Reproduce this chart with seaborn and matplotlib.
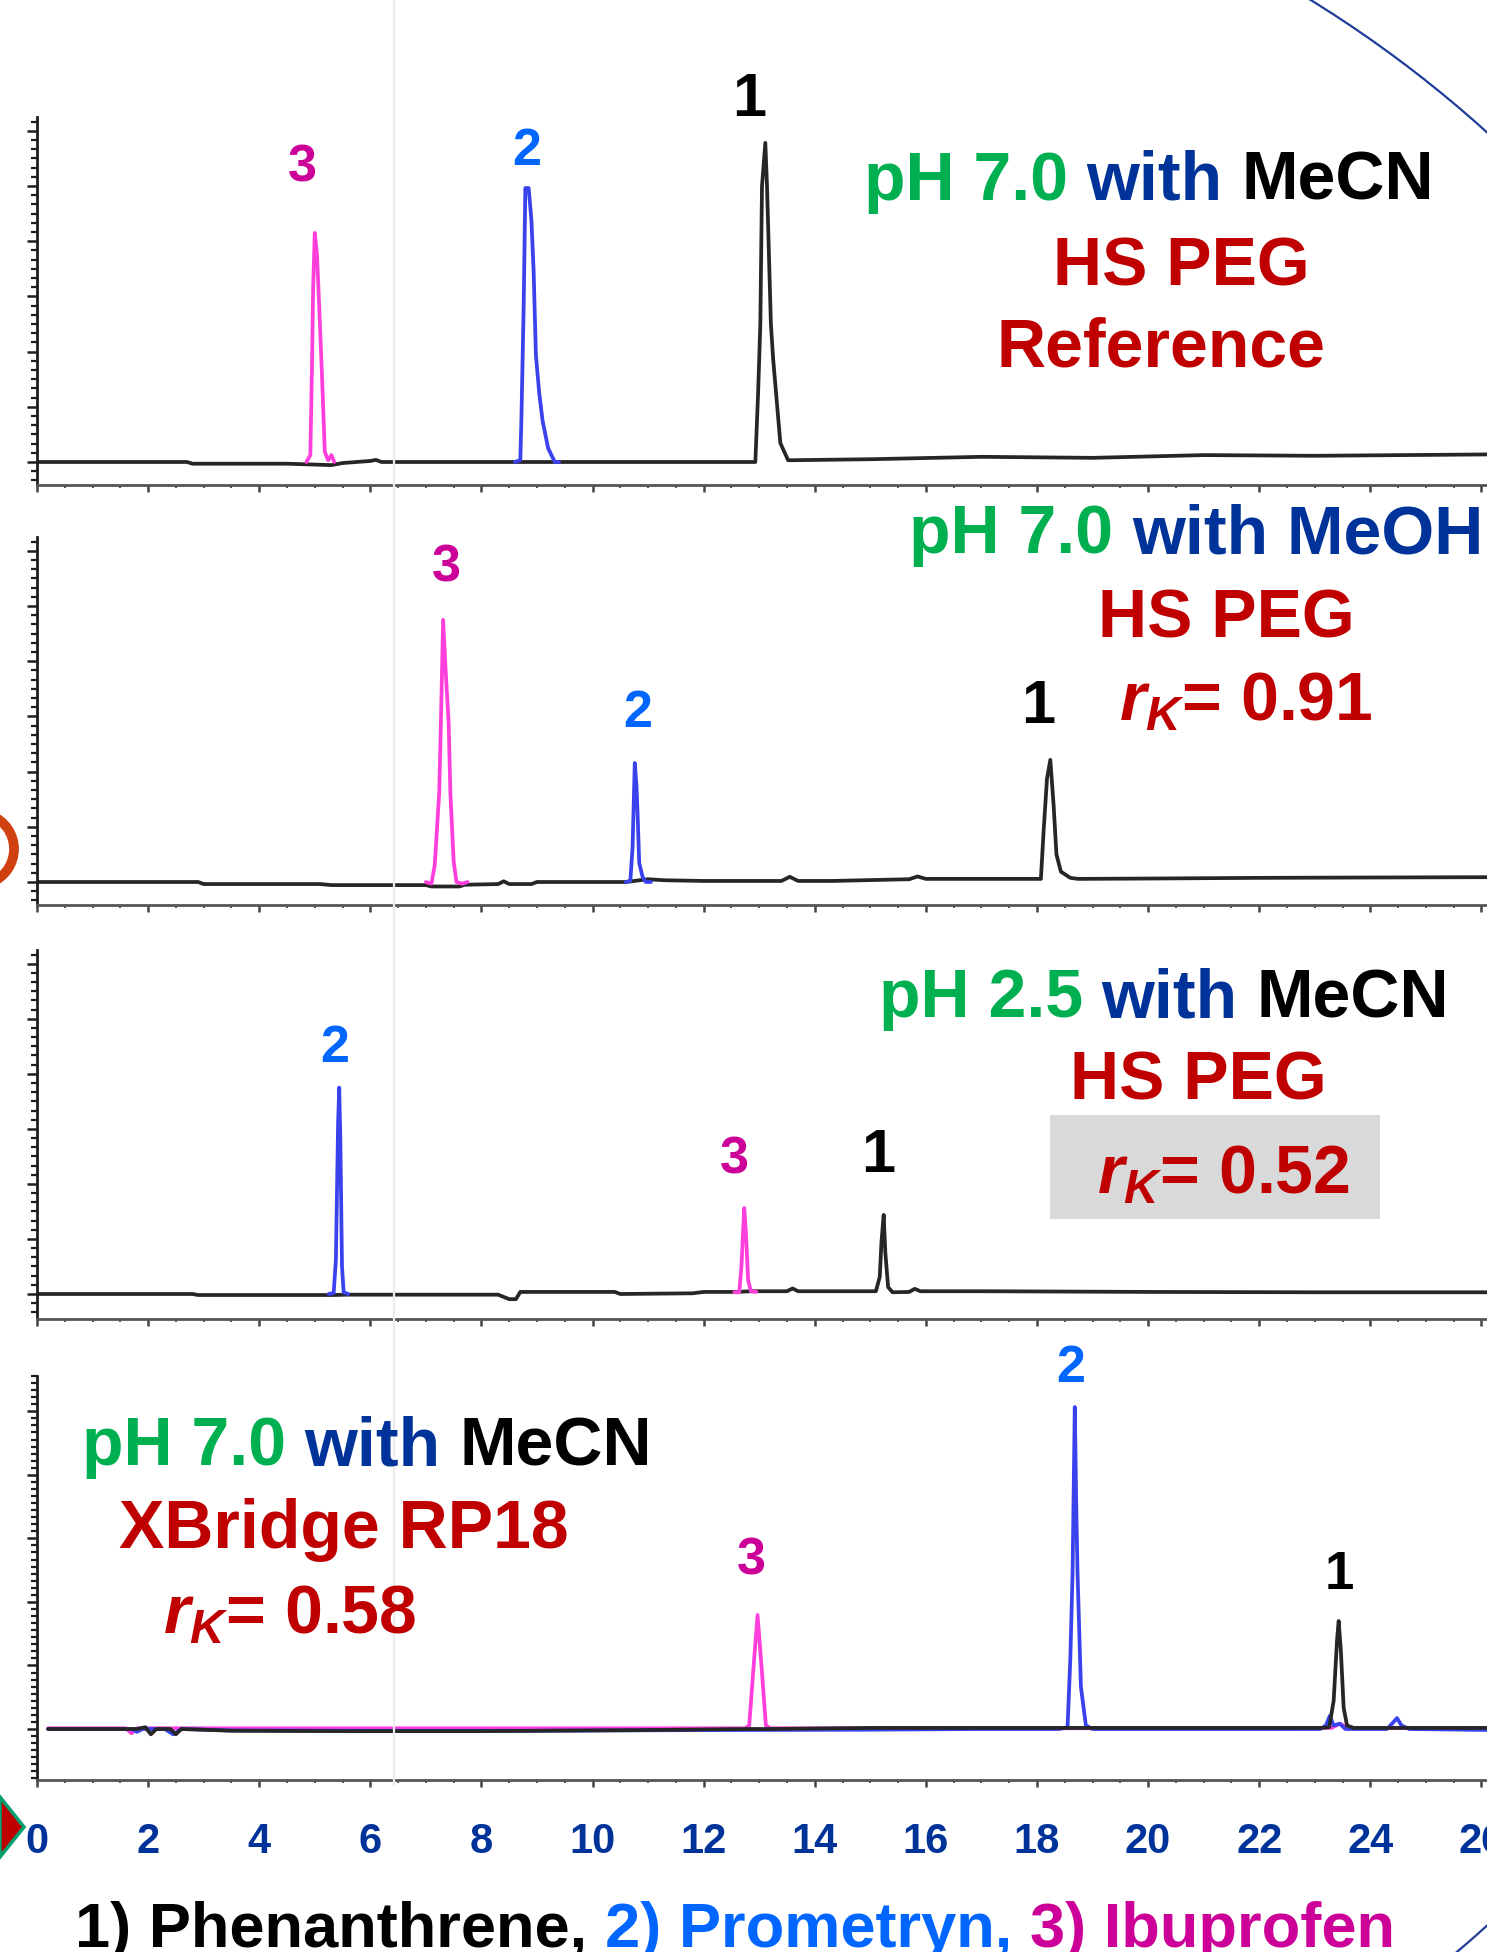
import matplotlib
matplotlib.use("Agg")
import numpy as np
import pandas as pd
import matplotlib.pyplot as plt
import seaborn as sns
from matplotlib.ticker import MultipleLocator, FormatStrFormatter
from matplotlib.lines import Line2D
from matplotlib.patches import Polygon, Arc, Rectangle

sns.set_style("ticks")
plt.rcParams["font.family"] = ["Liberation Sans", "DejaVu Sans"]
plt.rcParams["mathtext.fontset"] = "custom"
plt.rcParams["mathtext.it"] = "Liberation Sans:italic:bold"
plt.rcParams["mathtext.rm"] = "Liberation Sans:bold"
plt.rcParams["mathtext.bf"] = "Liberation Sans:bold"

# ---------------- data (retention time in min, signal in % of panel scale) ----------------
# Panel 1: pH 7.0 with MeCN, HS PEG (reference)
p1_black_t = [0.0, 2.7, 2.8, 4.5, 5.3, 5.5, 6.0, 6.1, 6.2, 8.6, 12.93, 12.98, 13.02, 13.05, 13.11,
              13.14, 13.21, 13.25, 13.38, 13.52, 15.0, 17.0, 19.0, 21.0, 23.0, 26.2]
p1_black_y = [0.0, 0.0, -0.5, -0.5, -0.9, -0.3, 0.3, 0.6, 0.0, 0.0, 0.0, 20, 40, 80, 92.5,
              80, 40, 30, 5.5, 0.5, 0.8, 1.5, 1.2, 2.0, 1.8, 2.2]
p1_pink_t = [4.85, 4.92, 4.95, 4.97, 5.0, 5.04, 5.08, 5.13, 5.18, 5.24, 5.3, 5.35]
p1_pink_y = [0.0, 2.0, 28, 50, 66.4, 60, 45, 25, 3, 0.5, 2.0, 0.0]
p1_blue_t = [8.6, 8.70, 8.72, 8.76, 8.79, 8.85, 8.90, 8.94, 8.98, 9.04, 9.1, 9.2, 9.32, 9.4]
p1_blue_y = [0.0, 0.5, 13, 45, 79.4, 79.4, 70, 55, 31, 20, 12, 4, 0.0, 0.0]

# Panel 2: pH 7.0 with MeOH, HS PEG
p2_black_t = [0.0, 2.9, 3.0, 5.1, 5.3, 7.0, 7.1, 7.6, 7.7, 8.3, 8.4, 8.5, 8.9, 9.0, 10.6, 11.0,
              11.3, 12.0, 13.4, 13.55, 13.7, 14.3, 15.7, 15.85, 16.0, 18.07, 18.12, 18.18, 18.24,
              18.3, 18.35, 18.43, 18.6, 18.74, 20.0, 22.0, 24.0, 26.2]
p2_black_y = [0.0, 0.0, -0.6, -0.6, -0.9, -0.9, -1.3, -1.3, -0.8, -0.6, 0.2, -0.6, -0.6, 0.0, 0.0,
              0.8, 0.5, 0.3, 0.3, 1.5, 0.3, 0.3, 0.8, 1.6, 0.9, 0.9, 15, 30, 35.4, 22, 8, 3, 1.2,
              0.9, 1.0, 1.2, 1.3, 1.4]
p2_pink_t = [7.0, 7.1, 7.16, 7.24, 7.27, 7.31, 7.36, 7.41, 7.44, 7.5, 7.55, 7.65, 7.75]
p2_pink_y = [0.0, -0.5, 5, 26, 46, 76, 60, 46, 26, 6, 0.0, -0.5, 0.0]
p2_blue_t = [10.6, 10.68, 10.72, 10.76, 10.79, 10.81, 10.84, 10.9, 10.96, 11.05]
p2_blue_y = [0.0, 0.3, 10, 34.5, 28, 20, 5.5, 1.5, 0.0, 0.0]

# Panel 3: pH 2.5 with MeCN, HS PEG
p3_black_t = [0.0, 2.8, 2.9, 5.3, 5.6, 8.3, 8.5, 8.62, 8.7, 10.4, 10.5, 11.8, 12.0, 12.6, 12.85,
              13.5, 13.6, 13.7, 15.1, 15.17, 15.2, 15.24, 15.27, 15.32, 15.4, 15.7, 15.8, 15.9,
              17.0, 20.0, 23.0, 26.2]
p3_black_y = [0.0, 0.0, -0.3, -0.3, -0.2, -0.2, -1.5, -1.5, 0.6, 0.6, 0.0, 0.2, 0.6, 0.6, 0.8,
              0.8, 1.6, 0.8, 0.8, 5, 15, 23, 12, 2, 0.5, 0.6, 1.5, 0.8, 0.8, 0.6, 0.5, 0.5]
p3_blue_t = [5.25, 5.34, 5.38, 5.42, 5.44, 5.46, 5.49, 5.52, 5.6]
p3_blue_y = [0.0, 0.3, 10, 50, 60, 45, 8, 0.5, 0.0]
p3_pink_t = [12.55, 12.64, 12.68, 12.73, 12.76, 12.8, 12.85, 12.95]
p3_pink_y = [0.5, 0.5, 8, 25, 18, 4, 0.8, 0.6]

# Panel 4: pH 7.0 with MeCN, XBridge RP18
p4_pink_t = [0.2, 1.6, 1.7, 1.8, 5.0, 10.0, 12.75, 12.82, 12.9, 12.97, 13.04, 13.12, 13.2, 15.0,
             18.5, 18.9, 22.0, 23.3, 23.45, 23.6, 26.2]
p4_pink_y = [0.2, 0.2, -1.2, 0.2, 0.2, 0.2, 0.2, 1.0, 18, 32.3, 18, 1.0, 0.2, 0.2, 0.2, 0.2,
             0.2, 0.3, 1.5, 0.3, 0.2]
p4_blue_t = [0.2, 1.7, 1.8, 1.9, 2.3, 2.45, 2.6, 3.5, 6.0, 9.0, 12.0, 15.0, 17.0, 18.4, 18.55,
             18.6, 18.64, 18.68, 18.71, 18.73, 18.79, 18.88, 19.0, 21.0, 23.1, 23.2, 23.27, 23.34,
             23.45, 23.55, 24.3, 24.42, 24.48, 24.56, 24.7, 26.2]
p4_blue_y = [0.0, 0.0, -0.8, 0.0, 0.0, -1.5, 0.0, -0.4, -0.5, -0.5, -0.3, -0.2, 0.0, 0.0, 0.5,
             20, 44, 91.2, 60, 44, 12, 1.0, 0.0, 0.0, 0.0, 1.0, 3.7, 1.0, 1.5, 0.0, 0.0, 2.0,
             3.1, 1.0, 0.0, -0.3]
p4_black_t = [0.2, 1.8, 1.95, 2.05, 2.15, 2.4, 2.5, 2.6, 3.5, 5.5, 8.0, 11.0, 12.8, 13.2, 15.0,
              18.4, 18.9, 23.1, 23.26, 23.34, 23.4, 23.43, 23.47, 23.52, 23.58, 23.7, 24.0, 25.0,
              26.2]
p4_black_y = [0.0, 0.0, 0.5, -1.5, 0.0, 0.0, -1.5, 0.0, -0.5, -0.6, -0.6, -0.3, 0.0, 0.0, 0.3,
              0.3, 0.3, 0.3, 0.5, 8, 25, 30.6, 22, 6, 1.0, 0.3, 0.3, 0.3, 0.3]

# peak-number labels: (time, signal) positions of the label baselines
p1_labels = [("3", 4.78, 81.2), ("2", 8.81, 86.1), ("1", 12.82, 100.3)]
p2_labels = [("3", 7.37, 87.0), ("2", 10.82, 44.9), ("1", 18.02, 46.1)]
p3_labels = [("2", 5.36, 67.4), ("3", 12.55, 34.9), ("1", 15.15, 35.5)]
p4_labels = [("2", 18.6, 98.3), ("3", 12.85, 43.9), ("1", 23.44, 39.7)]

x_ticks = [0, 2, 4, 6, 8, 10, 12, 14, 16, 18, 20, 22, 24, 26]
legend_items = ["1) Phenanthrene,", "2) Prometryn,", "3) Ibuprofen"]

# ---------------- styling ----------------
GREEN = "#00B050"
DBLUE = "#003399"
RED = "#C00000"
LBL = {"1": "#000000", "2": "#0066FF", "3": "#CC0099"}
TRACE = {"black": "#262626", "blue": "#3a42ee", "pink": "#ff3fdc"}

W, H = 1487, 1952
fig = plt.figure(figsize=(W / 100, H / 100), dpi=100)
fig.patch.set_facecolor("white")


def fx(px):
    return px / W


def fy(py):
    return 1 - py / H


X_LEFT = 37
XMAX = 26.1

panels = [
    dict(top=117, bot=485, ymin=-6.67, major=16, minor=16 / 6,
         traces=[("black", p1_black_t, p1_black_y), ("pink", p1_pink_t, p1_pink_y),
                 ("blue", p1_blue_t, p1_blue_y)], labels=p1_labels, big1=44),
    dict(top=537, bot=905, ymin=-6.67, major=16, minor=16 / 6,
         traces=[("black", p2_black_t, p2_black_y), ("pink", p2_pink_t, p2_pink_y),
                 ("blue", p2_blue_t, p2_blue_y)], labels=p2_labels, big1=44),
    dict(top=950, bot=1319, ymin=-7.27, major=16, minor=16 / 6,
         traces=[("black", p3_black_t, p3_black_y), ("blue", p3_blue_t, p3_blue_y),
                 ("pink", p3_pink_t, p3_pink_y)], labels=p3_labels, big1=44),
    dict(top=1376, bot=1780, ymin=-14.45, major=18, minor=2,
         traces=[("pink", p4_pink_t, p4_pink_y), ("blue", p4_blue_t, p4_blue_y),
                 ("black", p4_black_t, p4_black_y)], labels=p4_labels, big1=38),
]

axes = []
for i, p in enumerate(panels):
    ax = fig.add_axes([fx(X_LEFT), fy(p["bot"]), 1 - fx(X_LEFT), (p["bot"] - p["top"]) / H])
    ax.set_facecolor("none")
    frames = []
    order = []
    for name, t, y in p["traces"]:
        frames.append(pd.DataFrame({"time": t, "signal": y, "trace": name}))
        order.append(name)
    df = pd.concat(frames, ignore_index=True)
    sns.lineplot(data=df, x="time", y="signal", hue="trace", hue_order=order,
                 palette=TRACE, estimator=None, sort=False, legend=False, ax=ax,
                 linewidth=2.7)
    ax.set_xlim(0, XMAX)
    ax.set_ylim(p["ymin"], 100)
    ax.set_xlabel("")
    ax.set_ylabel("")
    for s in ("top", "right"):
        ax.spines[s].set_visible(False)
    ax.spines["left"].set_color("#1e1e1e")
    ax.spines["left"].set_linewidth(2.0)
    ax.spines["bottom"].set_color("#555555")
    ax.spines["bottom"].set_linewidth(2.0)
    ax.yaxis.set_major_locator(MultipleLocator(p["major"]))
    ax.yaxis.set_minor_locator(MultipleLocator(p["minor"]))
    ax.xaxis.set_major_locator(MultipleLocator(2))
    ax.xaxis.set_minor_locator(MultipleLocator(0.5))
    ax.tick_params(axis="y", which="major", direction="out", length=7.5, width=1.8,
                   color="#1e1e1e", labelleft=False)
    ax.tick_params(axis="y", which="minor", direction="out", length=4, width=1.6,
                   color="#1e1e1e")
    ax.tick_params(axis="x", which="major", direction="out", length=5, width=1.8,
                   color="#444444")
    ax.tick_params(axis="x", which="minor", direction="out", length=2.5, width=1.4,
                   color="#555555")
    if i < 3:
        ax.tick_params(axis="x", labelbottom=False)
    else:
        ax.set_xticks(x_ticks)
        ax.xaxis.set_major_formatter(FormatStrFormatter("%d"))
        ax.tick_params(axis="x", which="major", pad=25, labelsize=30, labelcolor=DBLUE)
        for lab in ax.get_xticklabels():
            lab.set_fontweight("bold")
    for s, t, y in p["labels"]:
        size = p["big1"] if s == "1" else 37.5
        ax.text(t, y, s, color=LBL[s], fontsize=size, fontweight="bold",
                ha="center", va="baseline", clip_on=False)
    axes.append(ax)

# ---------------- multi-coloured text lines ----------------
renderer = fig.canvas.get_renderer()


def rich_line(pieces, cx, base_y, size):
    space = 0.278 * size * 100 / 72
    arts, widths = [], []
    for s, c in pieces:
        t = fig.text(0, 0, s, color=c, fontsize=size, fontweight="bold",
                     ha="left", va="baseline", transform=fig.transFigure, zorder=4)
        arts.append(t)
        widths.append(t.get_window_extent(renderer).width)
    total = sum(widths) + space * (len(pieces) - 1)
    x = cx - total / 2
    for t, w in zip(arts, widths):
        t.set_position((fx(x), fy(base_y)))
        x += w + space


TS = 49
rich_line([("pH 7.0", GREEN), ("with", DBLUE), ("MeCN", "black")], 1149, 200, TS)
rich_line([("HS PEG", RED)], 1181, 285, TS)
rich_line([("Reference", RED)], 1161, 367, TS)

rich_line([("pH 7.0", GREEN), ("with MeOH", DBLUE)], 1196, 553, TS)
rich_line([("HS PEG", RED)], 1226, 637, TS)
rich_line([("$r_K$= 0.91", RED)], 1246, 720, TS)

fig.add_artist(Rectangle((fx(1050), fy(1219)), (1380 - 1050) / W, (1219 - 1115) / H,
                         transform=fig.transFigure, facecolor="#D9D9D9", edgecolor="none",
                         zorder=2))
rich_line([("pH 2.5", GREEN), ("with", DBLUE), ("MeCN", "black")], 1164, 1017, TS)
rich_line([("HS PEG", RED)], 1198, 1100, TS)
rich_line([("$r_K$= 0.52", RED)], 1223, 1193, TS)

rich_line([("pH 7.0", GREEN), ("with", DBLUE), ("MeCN", "black")], 367, 1465, TS)
rich_line([("XBridge RP18", RED)], 344, 1548, TS)
rich_line([("$r_K$= 0.58", RED)], 290, 1633, TS)

rich_line([(legend_items[0], "black"), (legend_items[1], LBL["2"]),
           (legend_items[2], LBL["3"])], 735, 1947, 45.5)

# ---------------- slide decorations ----------------
fig.add_artist(Line2D([fx(394), fx(394)], [fy(1785), 1], transform=fig.transFigure,
                      color="#ececec", lw=1.6, zorder=1))
fig.add_artist(Arc((fx(676), fy(1029)), 2 * 1209 / W, 2 * 1209 / H, theta1=-60, theta2=65,
                   transform=fig.transFigure, color="#1F3D99", lw=1.6))
fig.add_artist(Arc((fx(-22), fy(849)), 2 * 36 / W, 2 * 36 / H, theta1=-62, theta2=62,
                   transform=fig.transFigure, color="#D04010", lw=7))
fig.add_artist(Polygon([(0, fy(1797)), (fx(24), fy(1827)), (0, fy(1857))], closed=True,
                       transform=fig.transFigure, facecolor="#C00000", edgecolor="#00A070",
                       lw=2.5))

fig.savefig("out.png", dpi=100)
